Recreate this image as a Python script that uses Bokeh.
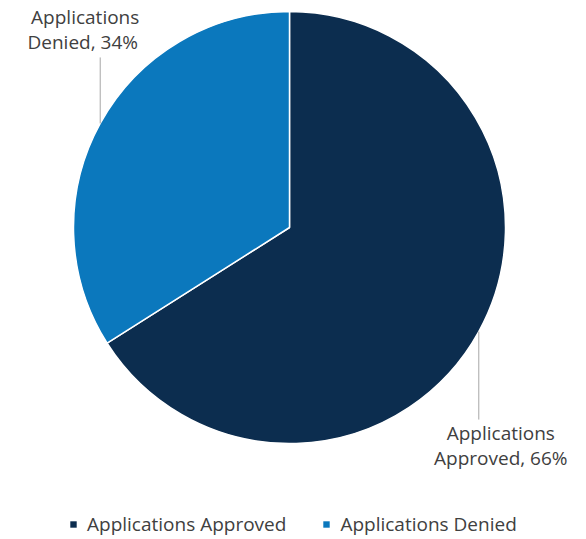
import math
from bokeh.plotting import figure
from bokeh.models import ColumnDataSource, Legend, LegendItem, Range1d
from bokeh.core.properties import value
from bokeh.embed import file_html
from bokeh.resources import INLINE

categories = ["Applications Approved", "Applications Denied"]
label_lines = [["Applications", "Approved, 66%"], ["Applications", "Denied,  34%"]]
shares = [66, 34]
colors = ["#0c2d4f", "#0b78bd"]

W, H = 570, 539
cx, cy, R = 289, H - 227, 216

# angles: start at 12 o'clock, go clockwise
total = sum(shares)
starts, ends, mids = [], [], []
a = math.pi / 2
for s in shares:
    sweep = 2 * math.pi * s / total
    starts.append(a - sweep)
    ends.append(a)
    mids.append(a - sweep / 2)
    a -= sweep

src = ColumnDataSource(dict(x=[cx] * 2, y=[cy] * 2, start=starts, end=ends,
                            color=colors, cat=categories))

p = figure(width=W, height=H, output_backend="svg", toolbar_location=None,
           x_range=Range1d(0, W), y_range=Range1d(0, H), min_border=0)
p.axis.visible = False
p.grid.visible = False
p.outline_line_color = None
p.background_fill_color = "white"

r = p.wedge(x="x", y="y", radius=R, start_angle="start", end_angle="end",
            fill_color="color", line_color="white", line_width=1.5, source=src)

# legend swatches (square keys), placed off-canvas so only the legend shows them
swatches = []
for c in colors:
    swatches.append(p.quad(left=[-60], right=[-50], bottom=[-60], top=[-50],
                           fill_color=c, line_color=None))

# leader lines and labels
font = "Open Sans"
txt_color = "#404040"
lead_len = [-88, 66]   # approved goes down, denied goes up
label_dx = [22, -15]
for i in range(len(shares)):
    ex = cx + R * math.cos(mids[i])
    ey = cy + R * math.sin(mids[i])
    y2 = ey + lead_len[i]
    p.segment(x0=[ex], y0=[ey], x1=[ex], y1=[y2], line_color="#a6a6a6", line_width=1)
    lx = ex + label_dx[i]
    if lead_len[i] < 0:
        ys = [y2 - 13, y2 - 38]
    else:
        ys = [y2 + 40, y2 + 15]
    p.text(x=[lx, lx], y=ys, text=label_lines[i], text_align="center",
           text_baseline="middle", text_font=value(font), text_font_size="19px",
           text_color=txt_color)

legend = Legend(items=[LegendItem(label=c, renderers=[swatches[i]]) for i, c in enumerate(categories)],
                orientation="horizontal", location=(69, 2),
                label_text_font=font, label_text_font_size="19px",
                label_text_color=txt_color, glyph_width=8, glyph_height=8,
                label_height=20, spacing=36, label_standoff=10, border_line_color=None,
                background_fill_alpha=0, padding=0, margin=0)
p.add_layout(legend)

open("out.html", "w").write(file_html(p, INLINE))
